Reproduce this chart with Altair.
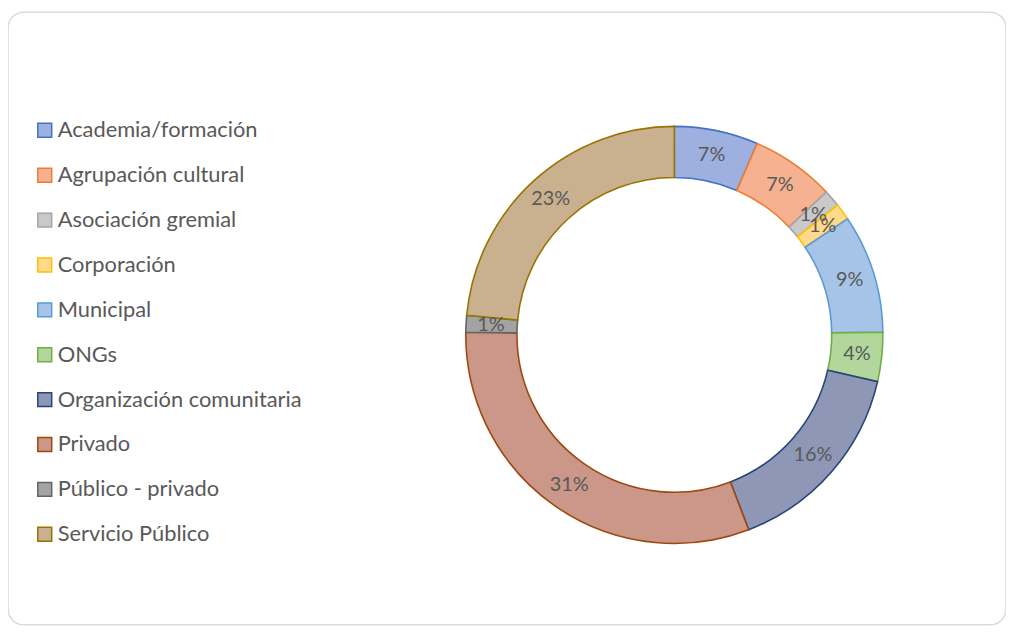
import altair as alt
import pandas as pd

categories = ["Academia/formación", "Agrupación cultural", "Asociación gremial",
              "Corporación", "Municipal", "ONGs", "Organización comunitaria",
              "Privado", "Público - privado", "Servicio Público"]
shares = [6.5, 6.5, 1.3, 1.3, 9.2, 3.8, 15.6, 31.0, 1.3, 23.5]
labels = ["7%", "7%", "1%", "1%", "9%", "4%", "16%", "31%", "1%", "23%"]
fills = ["#9EB0DF", "#F5B190", "#C9C9C9", "#FFD98C", "#A6C4E7", "#B2D69C",
         "#8E98B6", "#CA9788", "#A3A3A3", "#C9B18F"]
strokes = ["#4472C4", "#ED7D31", "#A5A5A5", "#FFC000", "#5B9BD5", "#70AD47",
           "#264478", "#9E480E", "#636363", "#997300"]

df = pd.DataFrame({
    "cat": categories,
    "value": shares,
    "idx": list(range(len(categories))),
    "label": labels,
})

FONT = "Lato"
CX, CY = 671, 325

base = alt.Chart(df).encode(
    theta=alt.Theta("value:Q", stack=True),
    order=alt.Order("idx:Q"),
)

arc = base.mark_arc(innerRadius=158.5, outerRadius=210, strokeWidth=1.6).encode(
    x=alt.value(CX), y=alt.value(CY),
    fill=alt.Fill("cat:N", scale=alt.Scale(domain=categories, range=fills), title=None),
    stroke=alt.Stroke("cat:N", scale=alt.Scale(domain=categories, range=strokes), title=None),
)

text = base.mark_text(radius=185, fontSize=20, font=FONT, color="#595959").encode(
    x=alt.value(CX), y=alt.value(CY),
    text="label:N",
)

chart = (arc + text).properties(
    width=1005, height=617,
    padding={"top": 2, "left": 0, "right": 0, "bottom": 0},
).configure_view(
    stroke="#D9D9D9", strokeWidth=1.5, cornerRadius=16,
).configure_legend(
    orient="none", legendX=26, legendY=108, padding=0,
    labelFont=FONT, labelFontSize=22, labelColor="#595959", labelLimit=400,
    symbolType="square", symbolSize=196, symbolStrokeWidth=1.5,
    rowPadding=23.2, labelOffset=2,
)

chart.save("out.html", embed_options={"renderer": "svg", "actions": False})
